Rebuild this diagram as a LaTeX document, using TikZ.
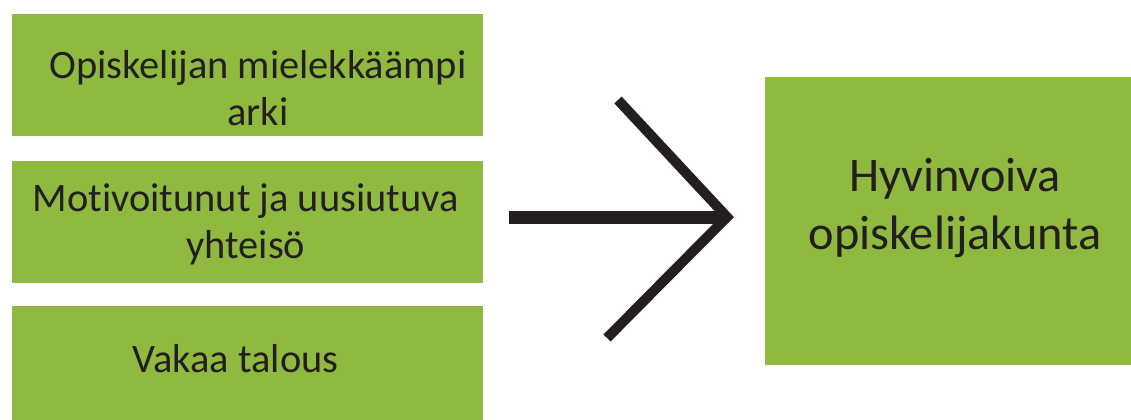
\documentclass[tikz,border=0pt]{standalone}
\usepackage{xcolor}
\usepackage{fontspec}
\setmainfont{Carlito}[Ligatures={NoCommon,NoContextual}]
\usetikzlibrary{positioning}
\definecolor{leafgreen}{RGB}{143,185,63}
\definecolor{inkblack}{RGB}{35,31,32}

\begin{document}
\begin{tikzpicture}[x=0.02cm,y=-0.02cm]
            \tikzstyle{every node}+=[inner sep=0pt]
            \tikzstyle{goal}=[fill=leafgreen, minimum width=9.42cm, minimum height=2.44cm]
            \tikzstyle{goaltext}=[text=inkblack, align=center, font=\fontsize{23}{26.8}\selectfont]
            \tikzstyle{result}=[fill=leafgreen, minimum width=7.32cm, minimum height=5.76cm]
            \tikzstyle{resulttext}=[text=inkblack, align=center, font=\fontsize{27.5}{33}\selectfont]
            \tikzstyle{shaft}=[draw=inkblack, line width=7.4pt]
            \tikzstyle{barb}=[draw=inkblack, line width=5.7pt, miter limit=4]
            \useasboundingbox (0,0) rectangle (1131,419);
            \node [goal, label={[goaltext, xshift=6pt, yshift=-7.4pt]center:{Opiskelijan mielekkäämpi\\arki}}] (arki) at (247.5,75) {};
            \node [goal, below=0.48cm of arki, label={[goaltext, xshift=-1pt, yshift=-1.7pt]center:{Motivoitunut ja uusiutuva\\yhteisö}}] (yhteiso) {};
            \node [goal, below=0.46cm of yhteiso, label={[goaltext, xshift=-6.8pt, yshift=4.8pt]center:{Vakaa talous}}] (talous) {};
            \node [result, label={[resulttext, xshift=4pt, yshift=7.2pt]center:{Hyvinvoiva\\opiskelijakunta}}] (kunta) at (948,221) {};
            \coordinate (tail) at (509,217);
            \coordinate (tip) at (727,217);
            \coordinate (upper) at (618,100);
            \coordinate (lower) at (607,338);
            \draw [shaft] (tail) -- (tip);
            \draw [barb] (upper) -- (tip) -- (lower);
\end{tikzpicture}
\end{document}
